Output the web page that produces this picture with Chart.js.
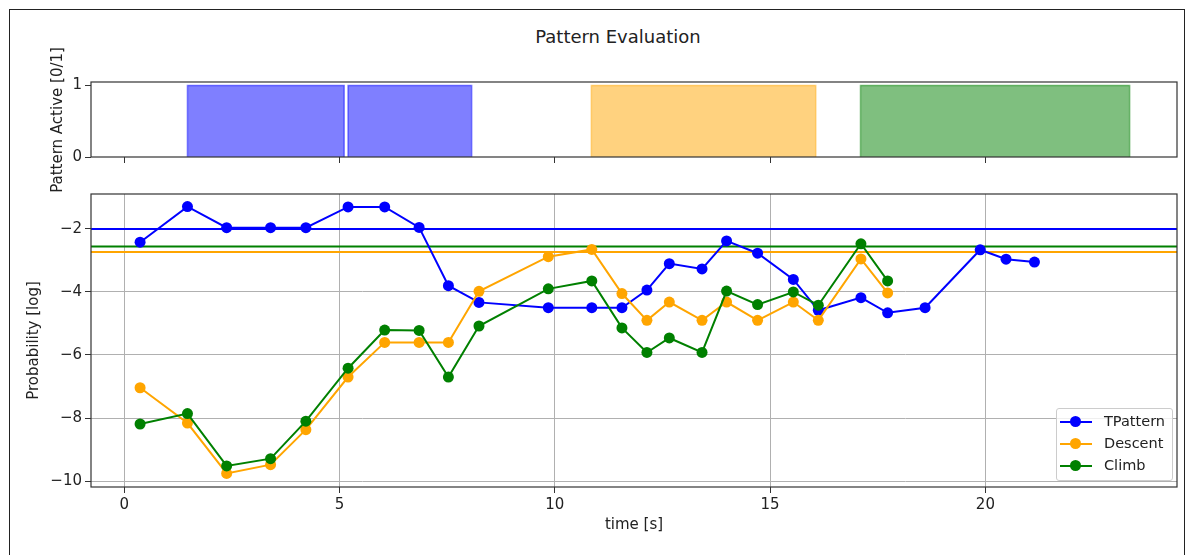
<!DOCTYPE html>
<html>
<head>
<meta charset="utf-8">
<script src="https://cdn.jsdelivr.net/npm/chart.js@4.4.1/dist/chart.umd.min.js"></script>
<style>
  html, body { margin: 0; padding: 0; background: #fff; overflow: hidden; }
  #wrap { position: relative; width: 1196px; height: 555px; font-family: "DejaVu Sans", sans-serif; color: #222; }
  #frame { position: absolute; left: 9px; top: 9px; width: 1174px; height: 620px; border: 1.5px solid #222; }
  #title { position: absolute; left: 418px; width: 400px; top: 26px; text-align: center; font-size: 18px; }
  #yTop { position: absolute; left: -43px; top: 110px; width: 200px; height: 20px; line-height: 20px;
          text-align: center; font-size: 15px; transform: rotate(-90deg); z-index: 2; }
  #cTop { position: absolute; left: 0; top: 0; }
  #cBot { position: absolute; left: 0; top: 175px; }
  #legend { position: absolute; left: 1056px; top: 408px; width: 115px; height: 71px;
            border: 1px solid #ccc; border-radius: 3px; background: rgba(255,255,255,0.8); }
  .row { position: absolute; left: 0; height: 20px; font-size: 14.5px; }
  .sw { position: absolute; left: 3px; top: 9px; width: 32px; height: 2px; }
  .dot { position: absolute; left: 13px; top: 4px; width: 11px; height: 11px; border-radius: 50%; }
  .lbl { position: absolute; left: 47px; top: 1px; white-space: nowrap; }
</style>
</head>
<body>
<div id="wrap">
  <div id="frame"></div>
  <div id="title">Pattern Evaluation</div>
  <canvas id="cTop" width="1196" height="175"></canvas>
  <canvas id="cBot" width="1196" height="380"></canvas>
  <div id="yTop">Pattern Active [0/1]</div>
  <div id="legend"></div>
</div>
<script>
// Datos
const seriesNames = ['TPattern', 'Descent', 'Climb'];
const seriesColors = ['#0000ff', '#ffa500', '#008000'];
const seriesFill = ['rgba(0,0,255,0.5)', 'rgba(255,165,0,0.5)', 'rgba(0,128,0,0.5)'];

const timeTPattern = [0.37, 1.47, 2.38, 3.40, 4.22, 5.20, 6.05, 6.85, 7.53, 8.24, 9.85, 10.86, 11.56,
                      12.14, 12.66, 13.42, 13.99, 14.71, 15.54, 16.12, 17.11, 17.73, 18.60, 19.88, 20.48, 21.14];
const timeOther = [0.37, 1.47, 2.38, 3.40, 4.22, 5.20, 6.05, 6.85, 7.53, 8.24, 9.85, 10.86, 11.56,
                   12.14, 12.66, 13.42, 13.99, 14.71, 15.54, 16.12, 17.11, 17.73];

const probTPattern = [-2.42, -1.29, -1.96, -1.96, -1.96, -1.30, -1.30, -1.95, -3.80, -4.33, -4.50, -4.50, -4.50,
                      -3.94, -3.10, -3.27, -2.38, -2.77, -3.60, -4.58, -4.18, -4.66, -4.50, -2.66, -2.96, -3.05];
const probDescent = [-7.04, -8.16, -9.76, -9.48, -8.37, -6.70, -5.60, -5.60, -5.60, -3.98, -2.88, -2.65, -4.05,
                     -4.90, -4.32, -4.90, -4.32, -4.90, -4.32, -4.90, -2.95, -4.03];
const probClimb = [-8.19, -7.86, -9.52, -9.29, -8.10, -6.42, -5.21, -5.22, -6.70, -5.08, -3.90, -3.65, -5.14,
                   -5.92, -5.46, -5.92, -3.97, -4.40, -4.00, -4.42, -2.47, -3.65];

// umbrales (lineas horizontales)
const thresholds = [-2.0, -2.73, -2.56];

// periodos activos del patron
const activeStart = [1.47, 5.20, 10.85, 17.10];
const activeEnd = [5.11, 8.07, 16.06, 23.35];
const activePattern = [0, 0, 1, 2];

const xTicks = [0, 5, 10, 15, 20];
const yTicksTop = [0, 1];
const yTicksBot = [-10, -8, -6, -4, -2];
const xMin = -0.77, xMax = 24.45;

const tickFont = { family: 'DejaVu Sans', size: 15 };
const textColor = '#222';
const minus = v => String(v).replace('-', '\u2212');

// marco alrededor del area de la grafica
const framePlugin = {
    id: 'frame',
    afterDatasetsDraw(chart) {
        const { ctx, chartArea: a } = chart;
        ctx.save();
        ctx.strokeStyle = '#333';
        ctx.lineWidth = 1.2;
        ctx.strokeRect(a.left, a.top, a.right - a.left, a.bottom - a.top);
        ctx.restore();
    }
};

// Grafica superior: patron activo
const barDatasets = activeStart.map((s, i) => {
    const e = activeEnd[i];
    const p = activePattern[i];
    return {
        data: [{ x: s, y: 0 }, { x: s, y: 1 }, { x: e, y: 1 }, { x: e, y: 0 }],
        borderColor: seriesFill[p],
        backgroundColor: seriesFill[p],
        borderWidth: 1.5,
        fill: 'origin',
        pointRadius: 0,
        tension: 0
    };
});

new Chart(document.getElementById('cTop'), {
    type: 'line',
    data: { datasets: barDatasets },
    options: {
        responsive: false,
        animation: false,
        layout: { padding: { left: 40, top: 82, right: 19, bottom: 0 } },
        plugins: { legend: { display: false }, tooltip: { enabled: false } },
        scales: {
            x: {
                type: 'linear', min: xMin, max: xMax,
                afterBuildTicks: s => { s.ticks = xTicks.map(v => ({ value: v })); },
                afterFit: s => { s.height = 18; },
                ticks: { display: false },
                grid: { drawOnChartArea: false, tickLength: 6, color: '#333' },
                border: { display: false }
            },
            y: {
                type: 'linear', min: 0, max: 1.05,
                afterBuildTicks: s => { s.ticks = yTicksTop.map(v => ({ value: v })); },
                afterFit: s => { s.width = 51; },
                ticks: { font: tickFont, color: textColor, padding: 3 },
                grid: { drawOnChartArea: false, tickLength: 6, color: '#333' },
                border: { display: false }
            }
        }
    },
    plugins: [framePlugin]
});

// Grafica inferior: probabilidades
const seriesTime = [timeTPattern, timeOther, timeOther];
const seriesProb = [probTPattern, probDescent, probClimb];

const lineDatasets = seriesNames.map((name, i) => ({
    label: name,
    data: seriesProb[i].map((y, j) => ({ x: seriesTime[i][j], y: y })),
    borderColor: seriesColors[i],
    backgroundColor: seriesColors[i],
    borderWidth: 2,
    pointRadius: 5.5,
    pointBorderWidth: 0,
    tension: 0,
    order: 3 - i
}));

const thresholdDatasets = thresholds.map((th, i) => ({
    label: seriesNames[i] + ' threshold',
    data: [{ x: xMin, y: th }, { x: xMax, y: th }],
    borderColor: seriesColors[i],
    borderWidth: 2,
    pointRadius: 0,
    order: 5
}));

new Chart(document.getElementById('cBot'), {
    type: 'line',
    data: { datasets: lineDatasets.concat(thresholdDatasets) },
    options: {
        responsive: false,
        animation: false,
        layout: { padding: { left: 18, top: 19, right: 19, bottom: 0 } },
        plugins: { legend: { display: false }, tooltip: { enabled: false } },
        scales: {
            x: {
                type: 'linear', min: xMin, max: xMax,
                afterBuildTicks: s => { s.ticks = xTicks.map(v => ({ value: v })); },
                afterFit: s => { s.height = 68; },
                ticks: { font: tickFont, color: textColor, padding: 3, maxRotation: 0 },
                grid: { color: '#b0b0b0', tickColor: '#333', tickLength: 6, lineWidth: 1 },
                border: { display: false },
                title: { display: true, text: 'time [s]', font: tickFont, color: textColor,
                         padding: { top: 0, bottom: 21 } }
            },
            y: {
                type: 'linear', min: -10.19, max: -0.89,
                afterBuildTicks: s => { s.ticks = yTicksBot.map(v => ({ value: v })); },
                afterFit: s => { s.width = 73; },
                ticks: { font: tickFont, color: textColor, padding: 3, callback: minus },
                grid: { color: '#b0b0b0', tickColor: '#333', tickLength: 6, lineWidth: 1 },
                border: { display: false },
                title: { display: true, text: 'Probability [log]', font: tickFont, color: textColor,
                         padding: { top: 7, bottom: 0 } }
            }
        }
    },
    plugins: [framePlugin]
});

// Leyenda
const legend = document.getElementById('legend');
seriesNames.forEach((name, i) => {
    const row = document.createElement('div');
    row.className = 'row';
    row.style.top = (3 + i * 22) + 'px';
    row.style.width = '115px';
    row.innerHTML = '<span class="sw" style="background:' + seriesColors[i] + '"></span>' +
                    '<span class="dot" style="background:' + seriesColors[i] + '"></span>' +
                    '<span class="lbl">' + name + '</span>';
    legend.appendChild(row);
});
</script>
</body>
</html>
